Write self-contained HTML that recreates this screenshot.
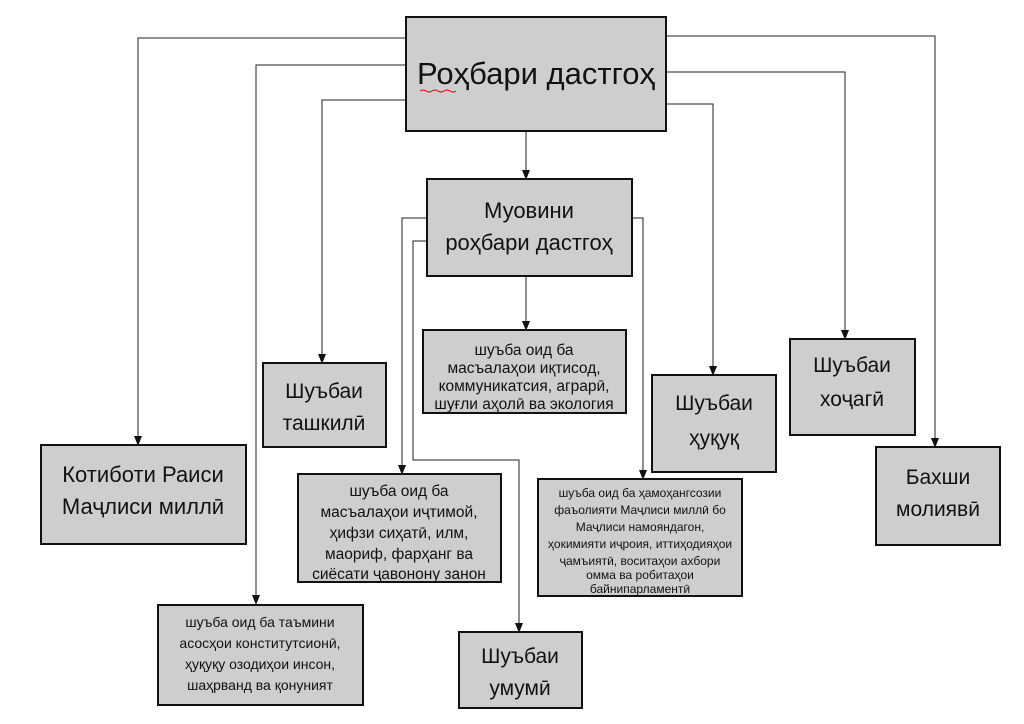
<!DOCTYPE html>
<html><head><meta charset="utf-8"><style>
body{margin:0;background:#fff;width:1024px;height:724px;overflow:hidden}
svg{display:block}
text{font-family:"Liberation Sans",sans-serif;fill:#111;text-anchor:middle}
rect{fill:#cecece;stroke:#111;stroke-width:2}
.l{stroke:#222;stroke-width:1;fill:none}
</style></head><body>
<svg width="1024" height="724" viewBox="0 0 1024 724">
<defs>
<marker id="b" markerWidth="8" markerHeight="10" refX="4" refY="9" viewBox="0 0 8 10" markerUnits="userSpaceOnUse"><path d="M0,0 L8,0 L4,10 z" fill="#111"/></marker></defs>
<g class="l">
<path d="M406,38 H138 V445" marker-end="url(#b)"/>
<path d="M406,65 H256 V604" marker-end="url(#b)"/>
<path d="M406,100 H322 V363" marker-end="url(#b)"/>
<path d="M526,131 V179" marker-end="url(#b)"/>
<path d="M666,36 H935 V447" marker-end="url(#b)"/>
<path d="M666,72 H845 V339" marker-end="url(#b)"/>
<path d="M666,104 H713 V375" marker-end="url(#b)"/>
<path d="M526,276 V330" marker-end="url(#b)"/>
<path d="M427,218 H402 V474" marker-end="url(#b)"/>
<path d="M427,241 H413 V460 H519 V632" marker-end="url(#b)"/>
<path d="M632,218 H643 V479" marker-end="url(#b)"/>
</g>
<rect x="406" y="17" width="260" height="114"/>
<text x="536" y="84" font-size="31">Роҳбари дастгоҳ</text>
<path d="M420,91 q3,-2 6,0 t6,0 t6,0 t6,0 t6,0 t6,0" stroke="#d00" fill="none" stroke-width="1"/>
<rect x="427" y="179" width="205" height="97"/>
<text x="529" y="218" font-size="22">Муовини</text>
<text x="529" y="250" font-size="22">роҳбари дастгоҳ</text>
<rect x="423" y="330" width="203" height="83"/>
<g font-size="15.5"><text x="524" y="355">шуъба оид ба</text><text x="524" y="373">масъалаҳои иқтисод,</text><text x="524" y="391">коммуникатсия, аграрӣ,</text><text x="524" y="409">шуғли аҳолӣ ва экология</text></g>
<rect x="263" y="363" width="123" height="84"/>
<text x="324" y="398" font-size="21">Шуъбаи</text><text x="324" y="430" font-size="21">ташкилӣ</text>
<rect x="652" y="375" width="124" height="97"/>
<text x="714" y="410" font-size="21">Шуъбаи</text><text x="714" y="445" font-size="21">ҳуқуқ</text>
<rect x="790" y="339" width="125" height="96"/>
<text x="852" y="372" font-size="21">Шуъбаи</text><text x="852" y="406" font-size="21">хоҷагӣ</text>
<rect x="41" y="445" width="205" height="99"/>
<text x="143" y="482" font-size="22">Котиботи Раиси</text><text x="143" y="514" font-size="22">Маҷлиси миллӣ</text>
<rect x="876" y="447" width="124" height="98"/>
<text x="938" y="484" font-size="21">Бахши</text><text x="938" y="516" font-size="21">молиявӣ</text>
<rect x="298" y="474" width="203" height="108"/>
<g font-size="15.5"><text x="399" y="496">шуъба оид ба</text><text x="399" y="517">масъалаҳои иҷтимой,</text><text x="399" y="538">ҳифзи сиҳатӣ, илм,</text><text x="399" y="559">маориф, фарҳанг ва</text><text x="399" y="579">сиёсати ҷавонону занон</text></g>
<rect x="538" y="479" width="204" height="117"/>
<g font-size="12"><text x="640" y="497">шуъба оид ба ҳамоҳангсозии</text><text x="640" y="514">фаъолияти Маҷлиси миллӣ бо</text><text x="640" y="531">Маҷлиси намояндагон,</text><text x="640" y="548">ҳокимияти иҷроия, иттиҳодияҳои</text><text x="640" y="565">ҷамъиятӣ, воситаҳои ахбори</text><text x="640" y="579">омма ва робитаҳои</text><text x="640" y="593">байнипарламентӣ</text></g>
<rect x="158" y="605" width="205" height="100"/>
<g font-size="14"><text x="260" y="627">шуъба оид ба таъмини</text><text x="260" y="648">асосҳои конститутсионӣ,</text><text x="260" y="669">ҳуқуқу озодиҳои инсон,</text><text x="260" y="690">шаҳрванд ва қонуният</text></g>
<rect x="459" y="632" width="123" height="76"/>
<text x="520" y="663" font-size="21">Шуъбаи</text><text x="520" y="695" font-size="21">умумӣ</text>
</svg>
</body></html>
